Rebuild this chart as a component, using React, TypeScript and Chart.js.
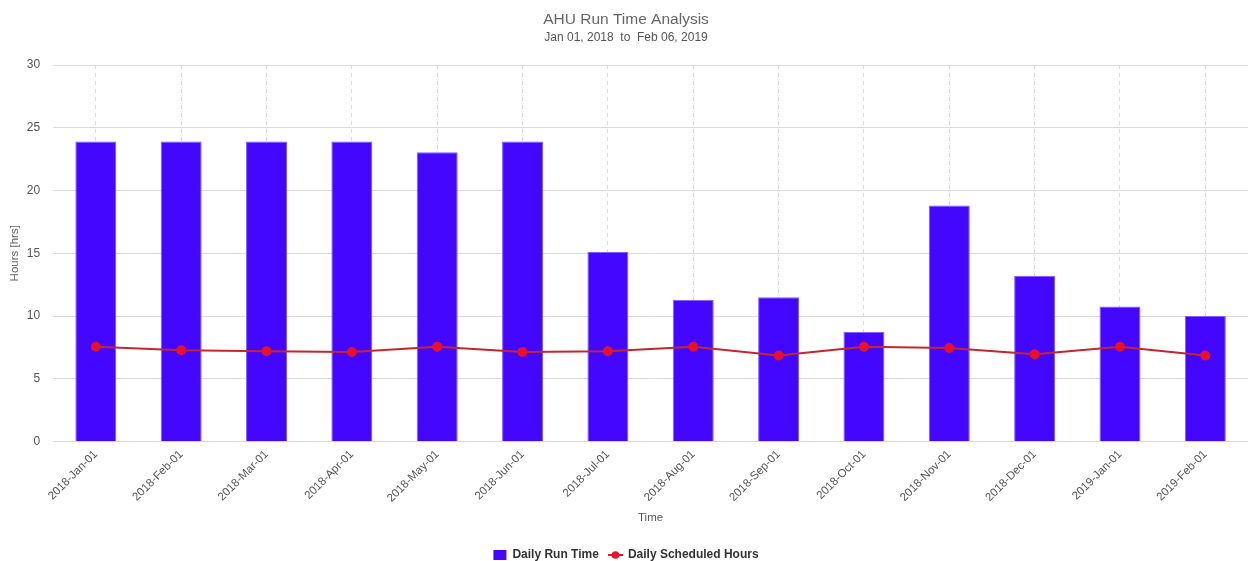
import React, { useEffect, useRef } from "react";
import { Chart, registerables } from "chart.js";

Chart.register(...registerables);

const categories = [
  "2018-Jan-01", "2018-Feb-01", "2018-Mar-01", "2018-Apr-01", "2018-May-01", "2018-Jun-01", "2018-Jul-01",
  "2018-Aug-01", "2018-Sep-01", "2018-Oct-01", "2018-Nov-01", "2018-Dec-01", "2019-Jan-01", "2019-Feb-01",
];
const dailyRunTime = [23.9, 23.9, 23.9, 23.9, 23.05, 23.9, 15.1, 11.3, 11.5, 8.75, 18.8, 13.2, 10.75, 10.0];
const dailyScheduledHours = [7.55, 7.27, 7.2, 7.13, 7.55, 7.13, 7.2, 7.55, 6.85, 7.55, 7.45, 6.95, 7.55, 6.85];
const yTicks = [0, 5, 10, 15, 20, 25, 30];

const BAR = "#4306ff";
const LINE = "#c4262e";
const POINT = "#e8102a";
const FONT = "'Liberation Sans', Arial, sans-serif";

function lineLegendIcon(): HTMLCanvasElement {
  const c = document.createElement("canvas");
  c.width = 15;
  c.height = 10;
  const ctx = c.getContext("2d")!;
  ctx.strokeStyle = POINT;
  ctx.lineWidth = 2;
  ctx.beginPath();
  ctx.moveTo(0, 5);
  ctx.lineTo(15, 5);
  ctx.stroke();
  ctx.fillStyle = POINT;
  ctx.beginPath();
  ctx.arc(7.5, 5, 3.8, 0, Math.PI * 2);
  ctx.fill();
  return c;
}

export default function App() {
  const ref = useRef<HTMLCanvasElement | null>(null);
  useEffect(() => {
    document.body.style.margin = "0";
    if (!ref.current) return;
    const icon = lineLegendIcon();
    const chart = new Chart(ref.current, {
      type: "bar",
      data: {
        labels: categories,
        datasets: [
          {
            type: "bar",
            label: "Daily Run Time",
            data: dailyRunTime,
            backgroundColor: BAR,
            borderColor: "#7d5cff",
            borderWidth: 1,
            barPercentage: 0.6,
            categoryPercentage: 0.8,
            order: 2,
          },
          {
            type: "line",
            label: "Daily Scheduled Hours",
            data: dailyScheduledHours,
            borderColor: LINE,
            backgroundColor: POINT,
            pointBackgroundColor: POINT,
            pointBorderColor: POINT,
            pointRadius: 4,
            borderWidth: 2,
            tension: 0,
            order: 1,
            clip: false,
          } as any,
        ],
      },
      options: {
        animation: false,
        responsive: false,
        maintainAspectRatio: false,
        layout: { autoPadding: false, padding: { left: 4, right: 0, top: 6, bottom: -10 } } as any,
        plugins: {
          title: {
            display: true,
            text: "AHU Run Time Analysis",
            color: "#666",
            font: { family: FONT, size: 15.5, weight: "normal" },
            padding: { top: 4, bottom: 2 },
          },
          subtitle: {
            display: true,
            text: "Jan 01, 2018  to  Feb 06, 2019",
            color: "#555",
            font: { family: FONT, size: 12, weight: "normal" },
            padding: { top: 0, bottom: 20 },
          },
          legend: {
            position: "bottom",
            labels: {
              usePointStyle: true,
              pointStyleWidth: 13,
              boxHeight: 10,
              color: "#333",
              font: { family: FONT, size: 12, weight: "bold" },
              padding: 10,
              generateLabels: (ch: any) => {
                const items = Chart.defaults.plugins.legend.labels.generateLabels(ch);
                items.sort((a: any, b: any) => a.datasetIndex - b.datasetIndex);
                return items.map((it: any) => {
                  if (it.datasetIndex === 0) {
                    return { ...it, pointStyle: "rect", fillStyle: BAR, strokeStyle: BAR, lineWidth: 0 };
                  }
                  return { ...it, pointStyle: icon, lineWidth: 0 };
                });
              },
            },
          },
          tooltip: { enabled: false },
        },
        scales: {
          x: {
            afterFit: (scale: any) => {
              scale.paddingLeft = 0;
              scale.paddingRight = 0;
            },
            grid: {
              offset: false,
              color: "#dcdcdc",
              drawTicks: false,
            } as any,
            border: { display: true, color: "#d8d8d8", dash: [4, 4] } as any,
            ticks: {
              color: "#555",
              font: { family: FONT, size: 11.5 },
              maxRotation: 45,
              minRotation: 45,
              padding: 6,
            },
            title: {
              display: true,
              text: "Time",
              color: "#555",
              font: { family: FONT, size: 11.5 },
              padding: { top: 0, bottom: 14 },
            },
          },
          y: {
            min: 0,
            max: 30,
            afterBuildTicks: (axis: any) => {
              axis.ticks = yTicks.map((v) => ({ value: v }));
            },
            grid: { color: "#dcdcdc", drawTicks: true, tickLength: 8, tickColor: "transparent" },
            border: { display: false },
            ticks: {
              color: "#555",
              font: { family: FONT, size: 12 },
              padding: 5,
            },
            title: {
              display: true,
              text: "Hours [hrs]",
              color: "#666",
              font: { family: FONT, size: 11.5 },
              padding: { top: 4, bottom: 0 },
            },
          },
        },
      },
    });
    return () => chart.destroy();
  }, []);
  return (
    <div style={{ position: "absolute", left: 0, top: 0, width: 1248, height: 561, background: "#fff" }}>
      <canvas ref={ref} width={1248} height={561} style={{ width: 1248, height: 561 }} />
    </div>
  );
}
